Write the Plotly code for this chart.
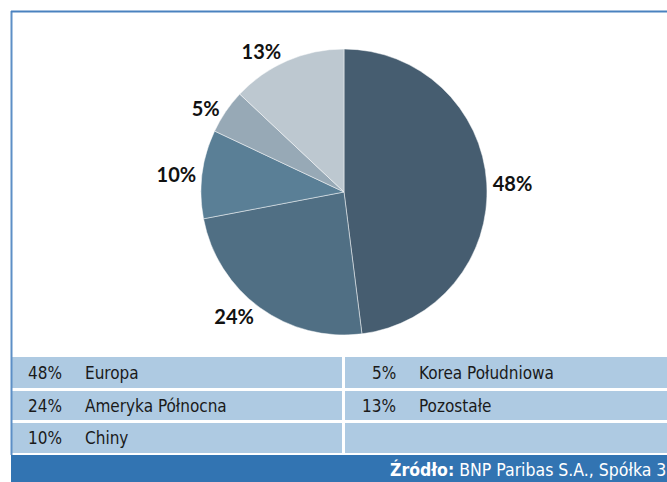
import plotly.graph_objects as go

regions = ["Europa", "Ameryka Północna", "Chiny", "Korea Południowa", "Pozostałe"]
shares = [48, 24, 10, 5, 13]
colors = ["#465d70", "#506f84", "#5a7f96", "#97a9b6", "#bdc8d0"]
source_label = "Źródło:"
source_text = "BNP Paribas S.A., Spółka 3"

W, H = 667, 482
def px(x):
    return x / W
def py(y):
    return 1 - y / H

fig = go.Figure()
fig.add_trace(go.Pie(
    labels=regions, values=shares, sort=False, direction="clockwise", rotation=0,
    marker=dict(colors=colors, line=dict(color="rgba(255,255,255,0.6)", width=0.8)),
    texttemplate="%{value}%", textposition="outside",
    textfont=dict(family="Lato, Open Sans, sans-serif", size=20, color="#111111", weight="bold"),
    domain=dict(x=[px(344 - 143), px(344 + 143)], y=[py(335), py(49)]),
    showlegend=False, hoverinfo="label+percent",
))

shapes = []
annotations = []
row_tops = [357, 391, 423]
row_bots = [388, 420, 453]
for r in range(3):
    shapes.append(dict(type="rect", xref="paper", yref="paper", x0=px(12), x1=px(342),
                       y0=py(row_bots[r]), y1=py(row_tops[r]), fillcolor="#aecae2", line=dict(width=0), layer="below"))
    shapes.append(dict(type="rect", xref="paper", yref="paper", x0=px(345), x1=1.0,
                       y0=py(row_bots[r]), y1=py(row_tops[r]), fillcolor="#aecae2", line=dict(width=0), layer="below"))
shapes.append(dict(type="rect", xref="paper", yref="paper", x0=px(11), x1=1.0,
                   y0=0, y1=py(455), fillcolor="#3274b2", line=dict(width=0), layer="below"))
shapes.append(dict(type="line", xref="paper", yref="paper", x0=px(11.5), x1=px(11.5),
                   y0=py(455), y1=py(11), line=dict(color="#5d8fc6", width=2)))
shapes.append(dict(type="line", xref="paper", yref="paper", x0=px(11), x1=1.0,
                   y0=py(11.5), y1=py(11.5), line=dict(color="#4a82bf", width=2)))

tfont = dict(family="DejaVu Sans Condensed, Liberation Sans Narrow, sans-serif", size=17, color="#1a1a1a")
cells = [(0, 0), (0, 1), (0, 2), (1, 0), (1, 1)]
for i, (col, row) in enumerate(cells):
    yc = py((row_tops[row] + row_bots[row]) / 2)
    num_right = 64 if col == 0 else 398
    name_left = 83 if col == 0 else 417
    annotations.append(dict(x=px(num_right), y=yc, xref="paper", yref="paper", xanchor="right", yanchor="middle",
                            text=f"{shares[i]}%", showarrow=False, font=tfont))
    annotations.append(dict(x=px(name_left), y=yc, xref="paper", yref="paper", xanchor="left", yanchor="middle",
                            text=regions[i], showarrow=False, font=tfont))

annotations.append(dict(x=px(388), y=py(469), xref="paper", yref="paper", xanchor="left", yanchor="middle",
                        text=f"<b>{source_label}</b> {source_text}", showarrow=False,
                        font=dict(family="DejaVu Sans Condensed, Liberation Sans Narrow, sans-serif", size=17.5, color="white")))

fig.update_layout(width=W, height=H, margin=dict(l=0, r=0, t=0, b=0),
                  paper_bgcolor="white", plot_bgcolor="white",
                  shapes=shapes, annotations=annotations)
fig.write_html("out.html", config={"displayModeBar": False},
               post_script="document.body.style.margin='0';document.body.style.overflow='hidden';")
